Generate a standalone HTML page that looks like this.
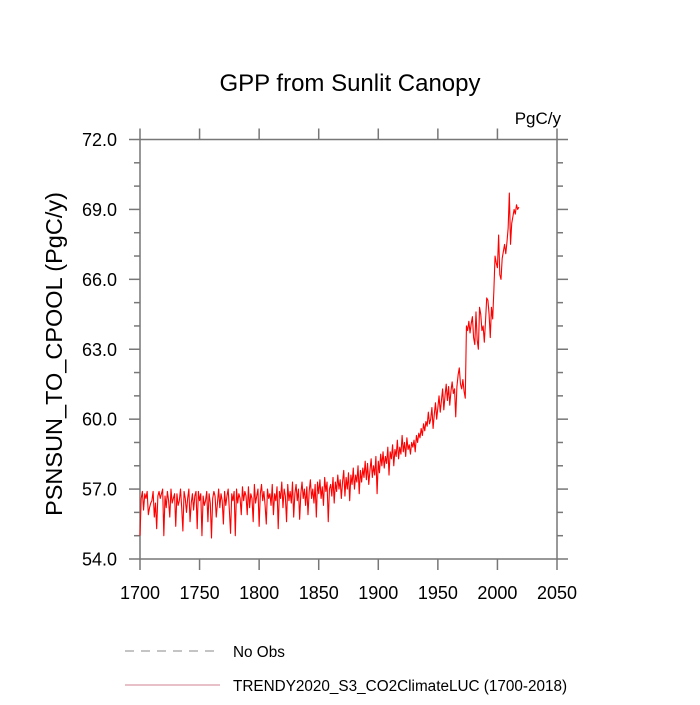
<!DOCTYPE html>
<html><head><meta charset="utf-8"><style>
body{margin:0;background:#fff}
svg text{font-family:"Liberation Sans",Arial,sans-serif;fill:#000}
</style></head><body>
<svg id="chart" width="700" height="700" viewBox="0 0 700 700" xmlns="http://www.w3.org/2000/svg">
<text x="350" y="91" font-size="24" text-anchor="middle">GPP from Sunlit Canopy</text>
<text x="561" y="124" font-size="17" text-anchor="end">PgC/y</text>
<text transform="translate(62,354) rotate(-90)" font-size="23.5" text-anchor="middle">PSNSUN_TO_CPOOL  (PgC/y)</text>
<g id="axes"></g>
<g id="series"></g>
<g>
<line x1="125" y1="651" x2="220" y2="651" stroke="#888" stroke-width="1" stroke-dasharray="9,7"/>
<text x="233" y="657" font-size="15.3">No Obs</text>
<line x1="125" y1="685" x2="220" y2="685" stroke="#d08090" stroke-width="1"/>
<text x="233" y="691" font-size="15.3">TRENDY2020_S3_CO2ClimateLUC (1700-2018)</text>
</g>
</svg>
<script>
const startYear = 1700;
const gppValues = [
55.0,56.6,56.9,56.1,56.8,56.6,56.9,55.9,56.2,56.4,
56.5,56.9,55.8,56.4,55.3,56.7,56.9,56.6,56.8,57.0,
55.0,56.7,56.2,56.9,56.5,55.8,57.0,56.4,56.6,56.8,
55.4,56.8,56.3,56.5,57.0,56.2,55.2,56.9,56.6,56.0,
56.6,57.0,55.6,56.4,56.8,56.1,56.7,56.9,55.3,56.9,
56.5,56.8,55.0,56.7,56.3,56.5,56.9,55.6,56.8,56.4,
54.9,56.6,56.9,56.7,55.8,56.4,57.0,56.2,56.8,56.5,
55.5,56.9,56.3,56.7,57.0,56.1,55.1,56.8,56.5,56.9,
55.0,57.0,56.4,56.8,56.6,55.9,57.1,56.5,56.9,56.7,
55.9,57.1,56.2,56.8,56.6,55.6,57.2,56.4,56.7,57.0,
55.4,56.8,57.2,56.5,56.9,56.3,55.5,57.0,56.6,56.8,
56.3,57.2,55.9,56.8,56.5,57.1,55.3,56.9,56.6,57.3,
56.2,57.0,56.7,55.6,57.2,56.5,56.9,56.4,57.3,55.8,
56.8,57.2,56.5,57.0,55.7,56.8,57.3,56.6,57.0,56.3,
57.1,55.9,56.9,57.4,56.6,57.0,56.4,57.2,55.8,57.3,
56.8,57.4,56.6,57.1,56.3,57.5,56.9,57.3,55.6,57.0,
57.2,56.7,57.5,56.4,57.3,56.9,57.6,57.0,57.4,56.6,
57.3,57.8,56.7,57.5,57.0,57.7,56.5,57.6,57.2,57.9,
57.0,57.6,57.3,58.0,56.8,57.8,57.3,57.9,57.5,58.2,
57.4,58.1,57.2,57.8,58.3,57.5,58.0,57.6,58.4,56.8,
58.2,57.7,58.5,58.0,58.6,57.9,58.4,58.1,58.8,57.6,
58.6,58.3,58.9,58.0,58.7,58.4,59.1,58.3,58.8,58.5,
59.3,58.6,59.0,58.4,59.2,58.7,58.9,58.5,59.0,58.8,
59.1,58.6,59.3,59.0,59.4,59.2,59.6,59.3,59.8,59.5,
59.9,59.7,60.3,59.8,60.0,60.5,59.6,60.2,60.7,60.0,
60.5,61.0,60.3,60.8,61.3,60.4,61.0,61.5,60.8,61.4,
60.6,61.2,61.6,61.1,61.3,60.1,61.4,61.9,62.2,61.5,
61.3,61.7,61.2,60.9,64.0,63.8,64.2,63.7,64.1,64.4,
63.5,63.2,64.6,63.4,63.0,64.8,64.5,63.8,64.0,63.3,
64.2,65.2,65.1,64.5,63.5,64.8,64.3,65.5,67.0,66.7,
66.5,67.9,66.2,66.0,66.9,67.2,67.5,67.1,67.6,68.2,
69.7,67.5,68.4,68.7,69.0,68.8,69.2,69.0,69.1
];
const xTicks = [1700,1750,1800,1850,1900,1950,2000,2050];
const yTicks = [54,57,60,63,66,69,72];
const yTickLabels = ["54.0","57.0","60.0","63.0","66.0","69.0","72.0"];

const X0=140,X1=557,Y0=559,Y1=139.5;
const xs = v => X0 + (v-1700)/(2050-1700)*(X1-X0);
const ys = v => Y0 - (v-54)/(72-54)*(Y0-Y1);
const NS="http://www.w3.org/2000/svg";
const axes=document.getElementById('axes');
function mk(tag,attrs,parent){const e=document.createElementNS(NS,tag);for(const k in attrs)e.setAttribute(k,attrs[k]);parent.appendChild(e);return e;}
const frame=mk('rect',{x:X0,y:Y1,width:X1-X0,height:Y0-Y1,fill:'none',stroke:'#777','stroke-width':1.5},axes);


const tc='#777';
xTicks.forEach((t,i)=>{
  const x=xs(t);
  const b=mk('line',{x1:x,y1:Y0,x2:x,y2:Y0+11,stroke:tc,'stroke-width':1.5},axes);
  
  
  const tp=mk('line',{x1:x,y1:Y1,x2:x,y2:Y1-11,stroke:tc,'stroke-width':1.5},axes);
  
  
  const l=mk('text',{x:x,y:599,'font-size':18,'text-anchor':'middle'},axes);
  l.textContent=t;
  
  
});
yTicks.forEach((t,i)=>{
  const y=ys(t);
  const a=mk('line',{x1:X0-11,y1:y,x2:X0,y2:y,stroke:tc,'stroke-width':1.5},axes);
  
  
  const r=mk('line',{x1:X1,y1:y,x2:X1+11,y2:y,stroke:tc,'stroke-width':1.5},axes);
  
  
  const l=mk('text',{x:117,y:y+6.5,'font-size':18,'text-anchor':'end'},axes);
  l.textContent=yTickLabels[i];
  
  
  if(i<yTicks.length-1){
    for(const m of [1,2]){
      const ym=ys(t+m);
      const ml=mk('line',{x1:X0-6,y1:ym,x2:X0,y2:ym,stroke:tc,'stroke-width':1.5},axes);
      
      
      const mr=mk('line',{x1:X1,y1:ym,x2:X1+6,y2:ym,stroke:tc,'stroke-width':1.5},axes);
      
      
    }
  }
});
const pts=gppValues.map((v,i)=>xs(startYear+i).toFixed(2)+','+ys(v).toFixed(2)).join(' ');
const line=mk('polyline',{points:pts,fill:'none',stroke:'#ff0000','stroke-width':1.1,'stroke-linejoin':'round'},document.getElementById('series'));


</script>
</body></html>
